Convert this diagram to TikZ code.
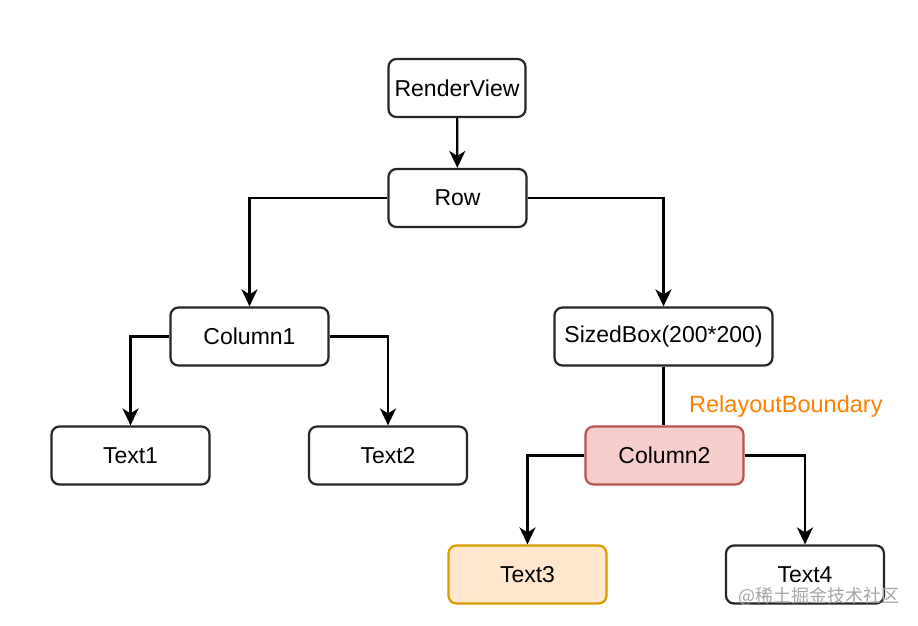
\documentclass[tikz,border=0pt]{standalone}
\usepackage{fontspec}
\setmainfont{Liberation Sans}
\newfontfamily\cjkfont{Noto Sans CJK SC}
\usetikzlibrary{arrows.meta}
\definecolor{redfill}{HTML}{F8CECC}
\definecolor{redline}{HTML}{B85450}
\definecolor{orfill}{HTML}{FFE6CC}
\definecolor{orline}{HTML}{D79B00}
\definecolor{lbl}{HTML}{FF8000}
\begin{document}
\begin{tikzpicture}[x=1pt,y=-1pt,
  box/.style={draw=black!85, line width=2.2pt, rounded corners=8pt, minimum height=58pt, inner sep=0pt, font=\fontsize{23}{27}\selectfont},
  conn/.style={line width=2.2pt, draw=black},
  arr/.style={conn, -{Stealth[length=17pt,width=16pt,inset=5pt]}}]
\useasboundingbox (0,0) rectangle (918,625);
\fill[white] (0,0) rectangle (918,625);
\node[box, minimum width=137pt] (rv) at (457,88) {RenderView};
\node[box, minimum width=138pt] (row) at (457.5,198) {Row};
\node[box, minimum width=158pt] (c1) at (249.5,336.5) {Column1};
\node[box, minimum width=218pt] (sb) at (663.5,336.5) {SizedBox(200*200)};
\node[box, minimum width=158pt] (t1) at (130.5,455.5) {Text1};
\node[box, minimum width=158pt] (t2) at (388,455.5) {Text2};
\node[box, minimum width=158pt, fill=redfill, draw=redline] (c2) at (664.5,455.5) {Column2};
\node[box, minimum width=158pt, fill=orfill, draw=orline] (t3) at (527.5,574.5) {Text3};
\node[box, minimum width=158pt] (t4) at (805,574.5) {Text4};
\node[text=lbl, font=\fontsize{23.5}{27}\selectfont, anchor=west, inner sep=0pt] (rb) at (689,406.5) {RelayoutBoundary};
\node[text=black!35, font=\cjkfont\fontsize{18}{21}\selectfont, anchor=east, inner sep=0pt] (wm) at (900,596) {@稀土掘金技术社区};
\draw[arr] (rv) -- (row);
\draw[arr] (row.west) -| (c1.north);
\draw[arr] (row.east) -| (sb.north);
\draw[arr] (c1.west) -| (t1.north);
\draw[arr] (c1.east) -| (t2.north);
\draw[conn] (sb.south) -- (sb.south |- c2.north);
\draw[arr] (c2.west) -| (t3.north);
\draw[arr] (c2.east) -| (t4.north);
\end{tikzpicture}
\end{document}
